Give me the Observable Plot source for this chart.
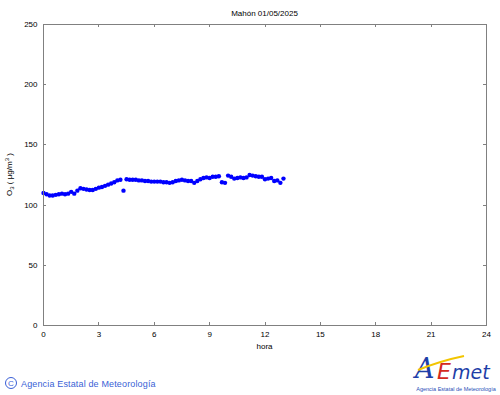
<!DOCTYPE html>
<html>
<head>
<meta charset="utf-8">
<script src="https://cdn.jsdelivr.net/npm/d3@7"></script>
<script src="https://cdn.jsdelivr.net/npm/@observablehq/plot@0.6"></script>
<style>
html,body{margin:0;padding:0;background:#fff;}
#chart{position:relative;width:500px;height:395px;}
svg{font-family:"Liberation Sans",Arial,sans-serif;}
</style>
</head>
<body>
<div id="chart"></div>
<script>
const title = "Mahón 01/05/2025";
const xTicks = [0, 3, 6, 9, 12, 15, 18, 21, 24];
const yTicks = [0, 50, 100, 150, 200, 250];
// O3 values every 10 minutes from 00:00 to 13:00
const stepMinutes = 10;
const o3 = [
  110, 109, 108, 108, 108.5, 109, 109.5, 109, 109.5, 111, 109.5, 112,
  114, 113.5, 113, 112.5, 112.5, 113.5, 114.5, 115, 116, 117, 118, 119,
  120.5, 121, 112, 121.5, 121, 121, 121, 120.5, 120.5, 120, 120, 119.5,
  119.5, 119.5, 119.5, 119, 119, 118.5, 119, 120, 120.5, 121, 120.5, 120,
  120, 118.5, 120, 121.5, 122.5, 123, 122.5, 123.5, 123.5, 124, 119, 118.5,
  124.5, 123.5, 122, 122.5, 123, 122.5, 123, 125, 124.5, 124, 123.5, 123.5,
  121.5, 122, 122.5, 120, 120.5, 118.5, 122
];
const data = o3.map((v, i) => ({hora: i * stepMinutes / 60, o3: v}));

const plot = Plot.plot({
  width: 500,
  height: 395,
  marginLeft: 43,
  marginRight: 14,
  marginTop: 24,
  marginBottom: 70,
  style: {fontFamily: "Liberation Sans, Arial, sans-serif", fontSize: "8px", color: "#000", background: "#fff"},
  x: {domain: [0, 24], ticks: xTicks, tickSize: 0, label: null},
  y: {domain: [0, 250], ticks: yTicks, tickSize: 0, label: null},
  marks: [
    Plot.axisX({ticks: xTicks, tickSize: 0, tickPadding: 6, fontSize: 8, fill: "#000"}),
    Plot.axisY({ticks: yTicks, tickSize: 0, tickPadding: 6, fontSize: 8, fill: "#000"}),
    Plot.dot(data, {x: "hora", y: "o3", r: 2.2, fill: "#0000ff", stroke: "none"}),
    Plot.frame({stroke: "#808080", strokeWidth: 1})
  ]
});

const svg = d3.select(plot);
const sx = plot.scale("x"), sy = plot.scale("y");
const x0 = sx.apply(0), x1 = sx.apply(24), y0 = sy.apply(0), y1 = sy.apply(250);
const tl = 3;
const g = svg.append("g").attr("stroke", "#808080").attr("stroke-width", 1);
xTicks.slice(1, -1).forEach(t => {
  const x = Math.round(sx.apply(t)) + 0.5;
  g.append("line").attr("x1", x).attr("x2", x).attr("y1", y0).attr("y2", y0 - tl);
  g.append("line").attr("x1", x).attr("x2", x).attr("y1", y1).attr("y2", y1 + tl);
});
yTicks.slice(1, -1).forEach(t => {
  const y = Math.round(sy.apply(t)) + 0.5;
  g.append("line").attr("y1", y).attr("y2", y).attr("x1", x0).attr("x2", x0 + tl);
  g.append("line").attr("y1", y).attr("y2", y).attr("x1", x1).attr("x2", x1 - tl);
});

const cx = (x0 + x1) / 2;
svg.append("text").attr("x", cx).attr("y", 16).attr("text-anchor", "middle")
  .attr("font-size", 8).attr("fill", "#000").text(title);
svg.append("text").attr("x", cx).attr("y", 349).attr("text-anchor", "middle")
  .attr("font-size", 8).attr("fill", "#000").text("hora");

const yl = svg.append("text").attr("transform", `translate(12,${(y0 + y1) / 2}) rotate(-90)`)
  .attr("text-anchor", "middle").attr("font-size", 8).attr("fill", "#000");
yl.append("tspan").text("O");
yl.append("tspan").attr("font-size", 6).attr("dy", 2).text("3");
yl.append("tspan").attr("dy", -2).text(" ( μg/m");
yl.append("tspan").attr("font-size", 6).attr("dy", -3).text("3");
yl.append("tspan").attr("dy", 3).text(" )");

// footer
const foot = svg.append("g").attr("fill", "#3a5fd6").attr("text-anchor", "start");
foot.append("circle").attr("cx", 11).attr("cy", 383).attr("r", 5.5).attr("fill", "none").attr("stroke", "#3a5fd6").attr("stroke-width", 1);
foot.append("text").attr("x", 11).attr("y", 386).attr("text-anchor", "middle").attr("font-size", 8).text("C");
foot.append("text").attr("x", 21).attr("y", 387).attr("text-anchor", "start").attr("font-size", 9).attr("letter-spacing", 0.15).text("Agencia Estatal de Meteorología");

// logo
const logo = svg.append("g").attr("text-anchor", "start");
logo.append("text").attr("x", 415).attr("y", 378).attr("font-size", 27).attr("font-style", "italic")
  .attr("font-family", "DejaVu Serif, serif").attr("fill", "#1f3fa8").text("A");
logo.append("path").attr("d", "M418,370 Q440,361 464,356").attr("stroke", "#f2c500").attr("stroke-width", 2).attr("fill", "none");
logo.append("text").attr("x", 437).attr("y", 379).attr("font-size", 22).attr("font-style", "italic")
  .attr("font-family", "DejaVu Sans, sans-serif").attr("fill", "#d42a1e").text("E");
logo.append("text").attr("x", 452).attr("y", 379).attr("font-size", 19).attr("font-style", "italic")
  .attr("font-family", "DejaVu Sans, sans-serif").attr("fill", "#1f3fa8").text("met");
logo.append("text").attr("x", 456).attr("y", 391).attr("text-anchor", "middle").attr("font-size", 5.5)
  .attr("fill", "#2a4fb8").text("Agencia Estatal de Meteorología");

document.getElementById("chart").appendChild(plot);
</script>
</body>
</html>
